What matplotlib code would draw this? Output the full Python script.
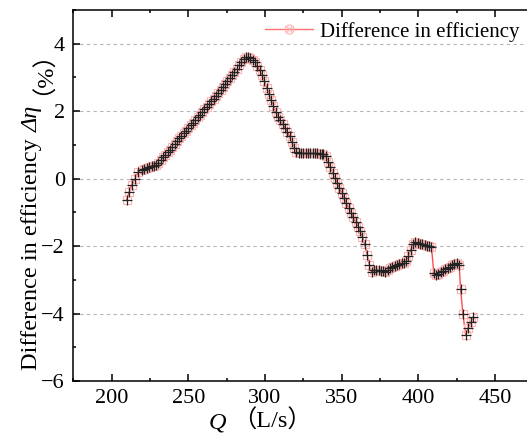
import matplotlib
matplotlib.use("Agg")
import matplotlib.pyplot as plt
from matplotlib.lines import Line2D
from matplotlib.legend_handler import HandlerTuple
from matplotlib.ticker import MultipleLocator
from matplotlib.transforms import IdentityTransform

# ---------------- data ----------------
flow_q = [
    209.8, 211.5, 213.1, 215.2, 217.4, 219.6, 221.2, 222.8, 224.4, 226.0,
    227.6, 229.0, 230.4, 232.0, 233.5, 235.0, 236.5, 238.0, 239.5, 241.0,
    242.5, 244.0, 245.5, 247.0, 248.5, 250.0, 251.5, 253.0, 254.5, 256.0,
    257.5, 259.0, 260.5, 262.0, 263.5, 265.0, 266.5, 268.0, 269.5, 271.0,
    272.5, 274.0, 275.5, 277.0, 278.5, 280.0, 281.5, 283.0, 284.5, 286.0,
    287.5, 289.0, 290.5, 292.0, 293.5, 295.0, 296.5, 298.0, 299.5, 301.0,
    302.5, 304.0, 305.5, 307.0, 308.5, 310.0, 311.5, 313.0, 314.5, 316.0,
    317.5, 319.0, 320.5, 322.0, 323.5, 325.0, 326.5, 328.0, 329.5, 331.0,
    332.5, 334.0, 335.5, 337.0, 338.0, 339.5, 341.0, 342.5, 344.0, 345.5,
    347.0, 348.5, 350.0, 351.5, 353.0, 354.5, 356.0, 357.5, 359.0, 360.5,
    362.0, 363.5, 365.0, 366.5, 368.0, 369.5, 371.0, 372.5, 374.0, 375.5,
    377.0, 378.5, 380.0, 381.5, 383.0, 384.5, 386.0, 387.5, 389.0, 390.5,
    392.0, 393.5, 395.0, 396.5, 398.0, 399.5, 401.0, 402.5, 404.0, 405.5,
    407.0, 408.5, 410.0, 411.5, 413.0, 414.5, 416.0, 417.5, 419.0, 420.5,
    422.0, 423.5, 425.0, 426.5, 427.5, 429.0, 430.8, 432.5, 434.0, 435.8,
]
eff_diff = [
    -0.62, -0.39, -0.19, 0.00, 0.20, 0.27, 0.30, 0.32, 0.34, 0.36,
    0.38, 0.41, 0.45, 0.55, 0.63, 0.70, 0.78, 0.86, 0.94, 1.03,
    1.12, 1.20, 1.27, 1.35, 1.42, 1.50, 1.58, 1.66, 1.74, 1.82,
    1.89, 1.97, 2.05, 2.13, 2.21, 2.29, 2.37, 2.45, 2.54, 2.63,
    2.72, 2.81, 2.90, 2.99, 3.08, 3.17, 3.26, 3.36, 3.46, 3.55,
    3.60, 3.60, 3.58, 3.52, 3.45, 3.33, 3.21, 3.08, 2.90, 2.70,
    2.51, 2.33, 2.15, 1.97, 1.84, 1.73, 1.62, 1.51, 1.39, 1.25,
    1.08, 0.92, 0.78, 0.75, 0.75, 0.75, 0.75, 0.75, 0.75, 0.75,
    0.75, 0.75, 0.74, 0.74, 0.73, 0.68, 0.50, 0.35, 0.18, 0.02,
    -0.13, -0.28, -0.42, -0.57, -0.72, -0.87, -1.01, -1.15, -1.28, -1.42,
    -1.56, -1.74, -1.95, -2.25, -2.55, -2.78, -2.72, -2.70, -2.72, -2.74,
    -2.74, -2.76, -2.72, -2.66, -2.62, -2.59, -2.56, -2.53, -2.51, -2.50,
    -2.45, -2.28, -2.12, -1.95, -1.88, -1.90, -1.93, -1.95, -1.97, -1.99,
    -2.01, -2.04, -2.79, -2.86, -2.83, -2.78, -2.74, -2.69, -2.65, -2.61,
    -2.57, -2.53, -2.50, -2.55, -3.28, -4.02, -4.64, -4.42, -4.25, -4.10,
]
legend_label = "Difference in efficiency"
x_ticks = [200, 250, 300, 350, 400, 450]
y_ticks = [-6, -4, -2, 0, 2, 4]

# ---------------- figure ----------------
W, H = 527, 434
fig = plt.figure(figsize=(W / 100, H / 100), dpi=100)
SERIF = "Liberation Serif"
CJK = "Noto Sans CJK SC"

ax_left, ax_right_px, ax_top_px, ax_bot_px = 73.3, 533.5, 10, 381
ax = fig.add_axes([ax_left / W, 1 - ax_bot_px / H,
                   (ax_right_px - ax_left) / W, (ax_bot_px - ax_top_px) / H])

ax.plot(flow_q, eff_diff, color="#ff4d4d", lw=1.0, zorder=3)
ax.plot(flow_q, eff_diff, ls="none", marker="s", ms=6, mfc="none",
        mec="#ffb3b3", mew=0.8, zorder=4)
ax.plot(flow_q, eff_diff, ls="none", marker="+", ms=6.5, mec="#222222",
        mew=0.9, zorder=5)

ax.set_xlim(175, 475)
ax.set_ylim(-6, 5)
ax.set_xticks(x_ticks)
ax.set_yticks(y_ticks)
ax.xaxis.set_minor_locator(MultipleLocator(25))
ax.yaxis.set_minor_locator(MultipleLocator(1))
ax.tick_params(which="both", direction="in", top=True, right=False,
               labelsize=16, width=1.1)
ax.tick_params(which="major", length=5, pad=6)
ax.tick_params(which="minor", length=2.5)
for lab in ax.get_xticklabels() + ax.get_yticklabels():
    lab.set_family(SERIF)
for s in ["left", "bottom", "top"]:
    ax.spines[s].set_linewidth(1.1)
ax.spines["right"].set_visible(False)

for yv in [4, 2, 0, -2, -4]:
    ax.axhline(yv, color="#b5b5b5", lw=0.8, ls=(0, (3, 3)), zorder=1)

# legend
h1 = Line2D([], [], color="#ff7070", lw=1.0, marker="o", ms=6.5,
            mfc="none", mec="#ffb0b0", mew=0.8)
h2 = Line2D([], [], ls="none", marker="x", ms=4, mec="#ffb0b0", mew=0.8)
leg = fig.legend([(h1, h2)], [legend_label], handler_map={tuple: HandlerTuple(ndivide=1)},
                 loc="center left", bbox_to_anchor=(265 / W, 1 - 31.7 / H),
                 bbox_transform=fig.transFigure, frameon=False, borderpad=0,
                 borderaxespad=0, handlelength=2.3, handletextpad=0.35,
                 prop={"family": SERIF, "size": 15})

# --------- composite labels (mixed fonts) ---------
fig.canvas.draw()
renderer = fig.canvas.get_renderer()
ident = IdentityTransform()


def chain(pieces, anchor, center, vertical):
    texts = []
    for txt, kw, gap in pieces:
        t = fig.text(0, 0, txt, transform=ident, rotation=90 if vertical else 0,
                     rotation_mode="anchor", ha="left", va="baseline", **kw)
        texts.append((t, gap))
    lengths = []
    for t, gap in texts:
        bb = t.get_window_extent(renderer)
        lengths.append(bb.height if vertical else bb.width)
    total = sum(lengths) + sum(g for _, g in texts)
    pos = center - total / 2
    for (t, gap), L in zip(texts, lengths):
        pos += gap
        if vertical:
            t.set_position((anchor, pos))
        else:
            t.set_position((pos, anchor))
        fig.canvas.draw()
        bb = t.get_window_extent(renderer)
        if vertical:
            t.set_position((anchor, pos - (bb.y0 - pos)))
        else:
            t.set_position((pos - (bb.x0 - pos), anchor))
        pos += L


ysz = 17.5
chain([
    ("Difference in efficiency", {"family": SERIF, "size": ysz}, 0),
    ("Δη", {"family": SERIF, "size": ysz, "style": "italic"}, 6),
    ("（%）", {"family": [SERIF, CJK], "size": ysz}, 11),
], anchor=37.5, center=H - 198, vertical=True)

chain([
    ("Q", {"family": SERIF, "size": ysz, "style": "italic"}, 0),
    ("（L/s）", {"family": [SERIF, CJK], "size": ysz}, 6),
], anchor=H - 428, center=260, vertical=False)

fig.savefig("out.png", dpi=100)
